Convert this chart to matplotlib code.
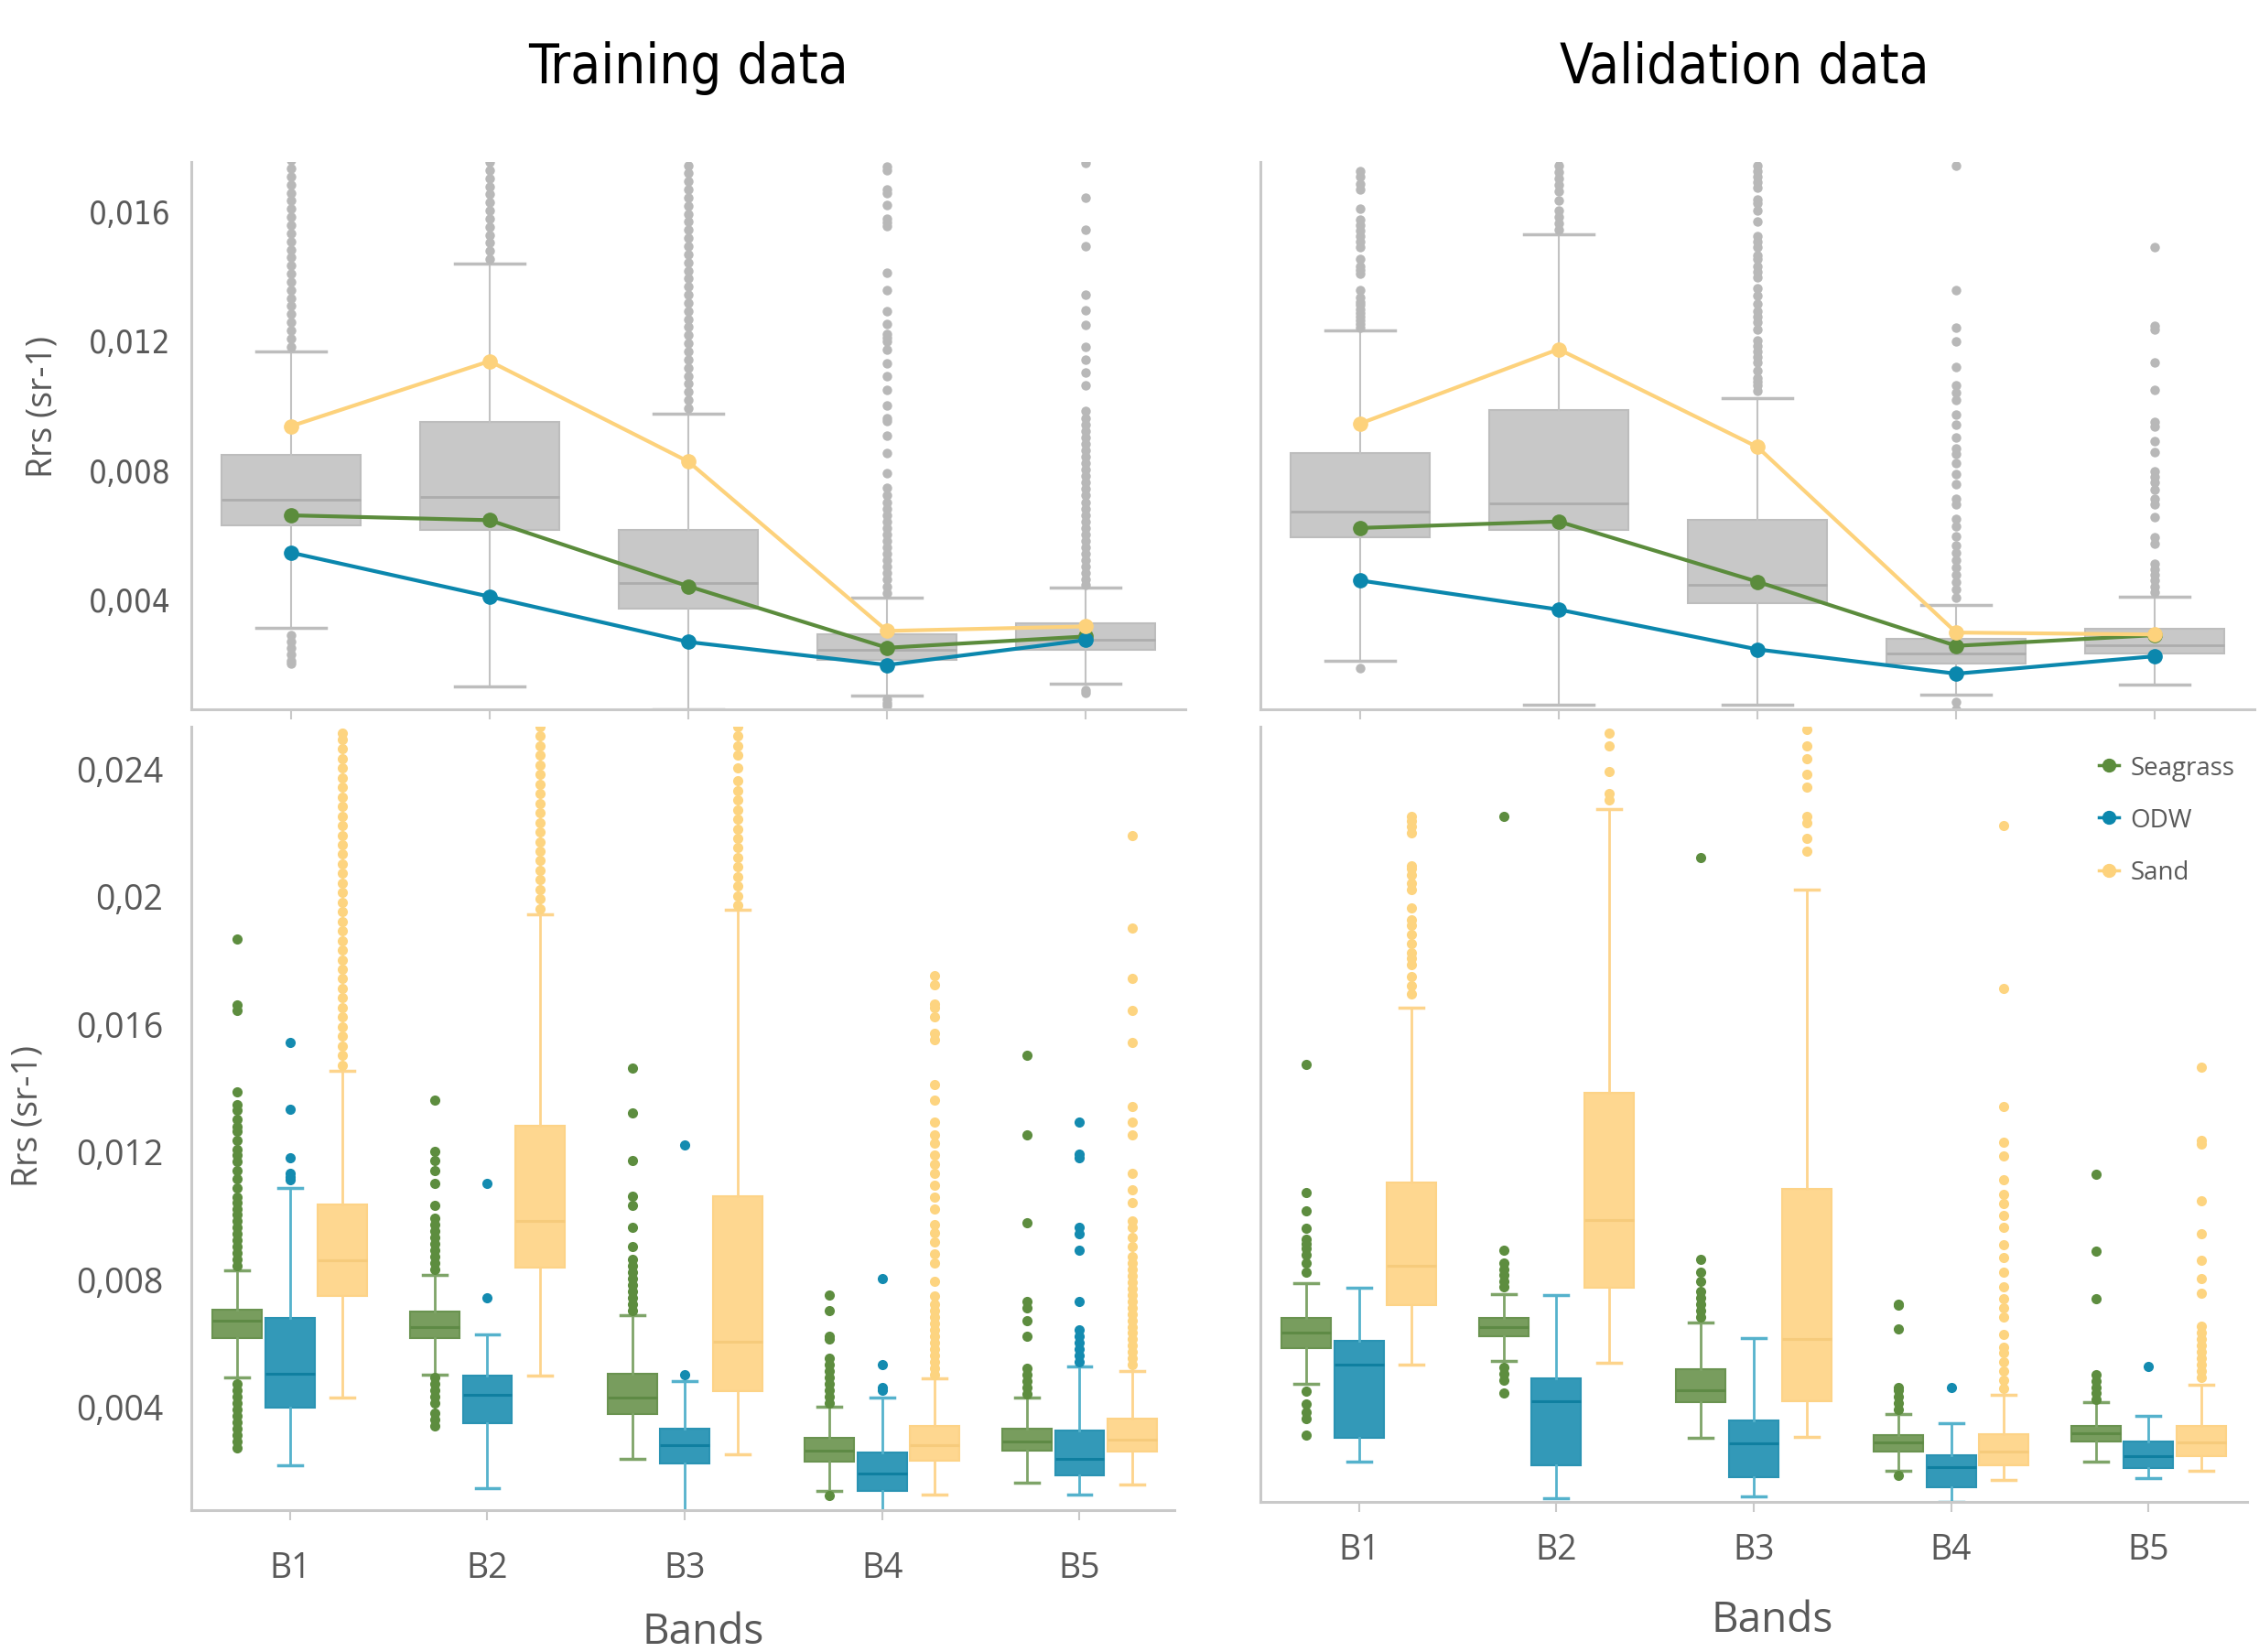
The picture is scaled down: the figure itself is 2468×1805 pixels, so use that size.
import matplotlib
matplotlib.use('Agg')
import matplotlib.pyplot as plt
from matplotlib.ticker import FuncFormatter, FixedLocator
from matplotlib.lines import Line2D
from matplotlib import font_manager as fm

# ---------------- DATA ----------------
bands = ['B1', 'B2', 'B3', 'B4', 'B5']
classes = ['Seagrass', 'ODW', 'Sand']

# Top row: pooled boxes (gray) + class mean lines
train_all_q1 = [0.00629, 0.00615, 0.00371, 0.00213, 0.00245]
train_all_med = [0.00707, 0.00716, 0.00450, 0.00243, 0.00274]
train_all_q3 = [0.00847, 0.00946, 0.00615, 0.00293, 0.00325]
train_all_wlo = [0.00311, 0.00130, 0.00061, 0.00103, 0.00138]
train_all_whi = [0.01166, 0.01437, 0.00973, 0.00404, 0.00435]
train_all_fliers = [
    [0.01180, 0.01205, 0.01230, 0.01255, 0.01280, 0.01305, 0.01330, 0.01355, 0.01380, 0.01405, 0.01430,
     0.01455, 0.01480, 0.01505, 0.01530, 0.01555, 0.01580, 0.01605, 0.01630, 0.01655, 0.01680, 0.01705,
     0.01730, 0.01755, 0.01780, 0.00290, 0.00270, 0.00250, 0.00230, 0.00210, 0.00200],
    [0.01450, 0.01475, 0.01500, 0.01525, 0.01550, 0.01575, 0.01600, 0.01625, 0.01650, 0.01675, 0.01700,
     0.01725, 0.01750, 0.01775],
    [0.00990, 0.01015, 0.01040, 0.01065, 0.01090, 0.01115, 0.01140, 0.01165, 0.01190, 0.01215, 0.01240,
     0.01265, 0.01290, 0.01315, 0.01340, 0.01365, 0.01390, 0.01415, 0.01440, 0.01465, 0.01490, 0.01515,
     0.01540, 0.01565, 0.01590, 0.01615, 0.01640, 0.01665, 0.01690, 0.01715, 0.01740, 0.01765],
    [0.01735, 0.01725, 0.01665, 0.01655, 0.01617, 0.01574, 0.01563, 0.01552, 0.01407, 0.01353, 0.01288,
     0.01251, 0.01218, 0.01208, 0.01197, 0.01170, 0.01127, 0.01089, 0.01046, 0.00998, 0.00960, 0.00949,
     0.00906, 0.00852, 0.00788, 0.00744, 0.00720, 0.00700, 0.00680, 0.00660, 0.00640, 0.00620, 0.00600,
     0.00580, 0.00560, 0.00540, 0.00520, 0.00500, 0.00480, 0.00460, 0.00440, 0.00420,
     0.00090, 0.00080, 0.00070],
    [0.01746, 0.01641, 0.01540, 0.01491, 0.01340, 0.01291, 0.01248, 0.01178, 0.01140, 0.01100, 0.01060,
     0.00980, 0.00960, 0.00940, 0.00920, 0.00900, 0.00880, 0.00860, 0.00840, 0.00820, 0.00800, 0.00780,
     0.00760, 0.00740, 0.00720, 0.00700, 0.00680, 0.00660, 0.00640, 0.00620, 0.00600, 0.00580, 0.00560,
     0.00540, 0.00520, 0.00500, 0.00480, 0.00460, 0.00445, 0.00120, 0.00110],
]
train_mean_seagrass = [0.00659, 0.00644, 0.00440, 0.00250, 0.00285]
train_mean_odw = [0.00544, 0.00408, 0.00268, 0.00197, 0.00274]
train_mean_sand = [0.00934, 0.01135, 0.00825, 0.00302, 0.00316]

val_all_q1 = [0.00590, 0.00615, 0.00387, 0.00201, 0.00231]
val_all_med = [0.00670, 0.00696, 0.00443, 0.00231, 0.00259]
val_all_q3 = [0.00852, 0.00985, 0.00644, 0.00277, 0.00308]
val_all_wlo = [0.00211, 0.00073, 0.00075, 0.00105, 0.00136]
val_all_whi = [0.01229, 0.01528, 0.01020, 0.00383, 0.00408]
val_all_fliers = [
    [0.01721, 0.01704, 0.01681, 0.01664, 0.01606, 0.01572, 0.01555, 0.01537, 0.01520, 0.01503, 0.01486,
     0.01451, 0.01428, 0.01417, 0.01405, 0.01354, 0.01331, 0.01319, 0.01308, 0.01296, 0.01285, 0.01273,
     0.01262, 0.01250, 0.01239, 0.00188],
    [0.01540, 0.01560, 0.01580, 0.01600, 0.01630, 0.01660, 0.01680, 0.01700, 0.01720, 0.01740, 0.01760,
     0.01780],
    [0.01740, 0.01721, 0.01704, 0.01687, 0.01670, 0.01635, 0.01623, 0.01601, 0.01566, 0.01520, 0.01503,
     0.01486, 0.01463, 0.01451, 0.01428, 0.01411, 0.01394, 0.01360, 0.01336, 0.01313, 0.01290, 0.01273,
     0.01256, 0.01233, 0.01198, 0.01181, 0.01164, 0.01147, 0.01130, 0.01107, 0.01084, 0.01072, 0.01061,
     0.01043],
    [0.01740, 0.01353, 0.01239, 0.01196, 0.01116, 0.01061, 0.01038, 0.01015, 0.00969, 0.00940, 0.00900,
     0.00866, 0.00848, 0.00819, 0.00785, 0.00756, 0.00710, 0.00693, 0.00647, 0.00624, 0.00595, 0.00567,
     0.00544, 0.00521, 0.00498, 0.00475, 0.00452, 0.00429, 0.00406, 0.00084, 0.00061],
    [0.01486, 0.01244, 0.01233, 0.01132, 0.01047, 0.00946, 0.00934, 0.00888, 0.00854, 0.00796, 0.00779,
     0.00762, 0.00739, 0.00710, 0.00693, 0.00653, 0.00590, 0.00572, 0.00509, 0.00492, 0.00475, 0.00458,
     0.00440, 0.00423],
]
val_mean_seagrass = [0.00620, 0.00640, 0.00454, 0.00256, 0.00289]
val_mean_odw = [0.00458, 0.00368, 0.00245, 0.00170, 0.00224]
val_mean_sand = [0.00942, 0.01172, 0.00870, 0.00297, 0.00291]

# Bottom row: per-class boxes, training
tr_sg_q1 = [0.00614, 0.00614, 0.00376, 0.00228, 0.00260]
tr_sg_med = [0.00668, 0.00649, 0.00428, 0.00261, 0.00291]
tr_sg_q3 = [0.00704, 0.00698, 0.00503, 0.00301, 0.00331]
tr_sg_wlo = [0.00490, 0.00500, 0.00235, 0.00134, 0.00160]
tr_sg_whi = [0.00827, 0.00812, 0.00685, 0.00400, 0.00428]
tr_sg_fliers = [
    [0.0084, 0.0086, 0.0088, 0.0090, 0.0092, 0.0094, 0.0096, 0.0098, 0.0100, 0.0102, 0.0104, 0.01056,
     0.01084, 0.01112, 0.0114, 0.01168, 0.01187, 0.01206, 0.01234, 0.01262, 0.01277, 0.0130, 0.01328,
     0.01346, 0.01387, 0.0164, 0.01659, 0.01865,
     0.0047, 0.0045, 0.0043, 0.0041, 0.0039, 0.0037, 0.0035, 0.0033, 0.0031, 0.0029, 0.0027],
    [0.0083, 0.0085, 0.0087, 0.0089, 0.0091, 0.0093, 0.0095, 0.0097, 0.0099, 0.0103, 0.0110, 0.0114,
     0.0117, 0.0120, 0.0136, 0.0049, 0.0047, 0.0045, 0.0043, 0.0041, 0.0038, 0.0036, 0.0034],
    [0.0070, 0.0072, 0.0074, 0.0076, 0.0078, 0.0080, 0.0082, 0.0084, 0.0086, 0.0090, 0.0096, 0.0103,
     0.0106, 0.0117, 0.0132, 0.0146],
    [0.0041, 0.0043, 0.0045, 0.0047, 0.0049, 0.0051, 0.0053, 0.0055, 0.0061, 0.0062, 0.0070, 0.0075,
     0.0012],
    [0.0044, 0.0046, 0.0048, 0.0050, 0.0052, 0.0062, 0.0067, 0.0071, 0.0073, 0.00975, 0.0125, 0.0150],
]
tr_odw_q1 = [0.00396, 0.00348, 0.00222, 0.00134, 0.00183]
tr_odw_med = [0.00503, 0.00437, 0.00278, 0.00190, 0.00237]
tr_odw_q3 = [0.00677, 0.00496, 0.00330, 0.00256, 0.00325]
tr_odw_wlo = [0.00216, 0.00143, 0.00072, 0.00072, 0.00123]
tr_odw_whi = [0.01084, 0.00625, 0.00479, 0.00428, 0.00526]
tr_odw_fliers = [
    [0.0111, 0.0112, 0.0113, 0.0118, 0.0133, 0.0154],
    [0.0074, 0.0110],
    [0.0050, 0.0122],
    [0.0045, 0.0046, 0.0053, 0.0080],
    [0.0054, 0.0056, 0.0058, 0.0060, 0.0062, 0.0064, 0.0073, 0.0089, 0.0094, 0.0096, 0.0118, 0.0119,
     0.0129],
]
tr_sand_q1 = [0.00747, 0.00835, 0.00447, 0.00231, 0.00258]
tr_sand_med = [0.00859, 0.00981, 0.00602, 0.00278, 0.00295]
tr_sand_q3 = [0.01033, 0.01280, 0.01060, 0.00338, 0.00363]
tr_sand_wlo = [0.00428, 0.00496, 0.00250, 0.00123, 0.00156]
tr_sand_whi = [0.01453, 0.01942, 0.01955, 0.00488, 0.00512]
tr_sand_fliers = [
    [0.0147, 0.0150, 0.0153, 0.0156, 0.0159, 0.0162, 0.0165, 0.0168, 0.0171, 0.0174, 0.0177, 0.0180,
     0.0183, 0.0186, 0.0189, 0.0192, 0.0195, 0.0198, 0.0201, 0.0204, 0.0207, 0.0210, 0.0213, 0.0216,
     0.0219, 0.0222, 0.0225, 0.0228, 0.0231, 0.0234, 0.0237, 0.0240, 0.0243, 0.0246, 0.0249, 0.0251],
    [0.0196, 0.0199, 0.0202, 0.0205, 0.0208, 0.0211, 0.0214, 0.0217, 0.0220, 0.0223, 0.0226, 0.0229,
     0.0232, 0.0235, 0.0238, 0.0241, 0.0244, 0.0247, 0.0250, 0.0253, 0.0256],
    [0.0197, 0.0200, 0.0203, 0.0206, 0.0209, 0.0212, 0.0215, 0.0218, 0.0221, 0.0224, 0.0227, 0.0230,
     0.0233, 0.0236, 0.0240, 0.0244, 0.0247, 0.0250, 0.0253],
    [0.0050, 0.0052, 0.0054, 0.0056, 0.0058, 0.0060, 0.0062, 0.0064, 0.0066, 0.0068, 0.0070, 0.0072,
     0.00747, 0.00793, 0.0085, 0.00878, 0.00915, 0.00943, 0.00971, 0.01018, 0.01056, 0.01093, 0.01131,
     0.01159, 0.01187, 0.01224, 0.01252, 0.0129, 0.0136, 0.0141, 0.0155, 0.0157, 0.0162, 0.0165, 0.0166,
     0.0172, 0.0175],
    [0.0053, 0.0055, 0.0057, 0.0059, 0.0061, 0.0063, 0.0065, 0.0067, 0.0069, 0.0071, 0.0073, 0.0075,
     0.0077, 0.0079, 0.0081, 0.0083, 0.0085, 0.0087, 0.0090, 0.0093, 0.0096, 0.0098, 0.0104, 0.0108,
     0.0113, 0.0125, 0.0129, 0.0134, 0.0154, 0.0164, 0.0174, 0.0190, 0.0219],
]

# Bottom row: per-class boxes, validation
va_sg_q1 = [0.00552, 0.00590, 0.00384, 0.00228, 0.00260]
va_sg_med = [0.00601, 0.00618, 0.00420, 0.00256, 0.00284]
va_sg_q3 = [0.00646, 0.00646, 0.00485, 0.00279, 0.00309]
va_sg_wlo = [0.00440, 0.00513, 0.00270, 0.00167, 0.00196]
va_sg_whi = [0.00757, 0.00721, 0.00631, 0.00346, 0.00382]
va_sg_fliers = [
    [0.0079, 0.00818, 0.00846, 0.00865, 0.00878, 0.00893, 0.00927, 0.00983, 0.0104, 0.01442,
     0.00416, 0.00378, 0.0035, 0.00331, 0.00279],
    [0.00743, 0.00762, 0.00781, 0.00799, 0.00818, 0.00859, 0.02219, 0.00491, 0.00472, 0.00453, 0.0041],
    [0.0065, 0.0067, 0.0069, 0.0071, 0.0073, 0.0076, 0.0079, 0.0083, 0.0209],
    [0.0036, 0.0038, 0.0040, 0.0042, 0.0043, 0.00612, 0.00687, 0.0069, 0.00153],
    [0.0039, 0.0041, 0.0043, 0.0045, 0.0047, 0.00706, 0.00856, 0.01096],
]
va_odw_q1 = [0.00270, 0.00185, 0.00148, 0.00116, 0.00176]
va_odw_med = [0.00500, 0.00387, 0.00253, 0.00178, 0.00213]
va_odw_q3 = [0.00575, 0.00457, 0.00326, 0.00215, 0.00260]
va_odw_wlo = [0.00195, 0.00082, 0.00088, 0.00070, 0.00144]
va_odw_whi = [0.00740, 0.00719, 0.00584, 0.00316, 0.00341]
va_odw_fliers = [[], [], [], [0.00429], [0.00494]]
va_sand_q1 = [0.00687, 0.00740, 0.00387, 0.00185, 0.00213]
va_sand_med = [0.00810, 0.00953, 0.00580, 0.00228, 0.00256]
va_sand_q3 = [0.01070, 0.01352, 0.01051, 0.00281, 0.00307]
va_sand_wlo = [0.00500, 0.00506, 0.00275, 0.00138, 0.00168]
va_sand_whi = [0.01620, 0.02242, 0.01990, 0.00406, 0.00438]
va_sand_fliers = [
    [0.01661, 0.01689, 0.01717, 0.01755, 0.01774, 0.01792, 0.0182, 0.01849, 0.01877, 0.01895, 0.01933,
     0.01989, 0.02008, 0.02036, 0.02055, 0.02064, 0.02167, 0.02186, 0.02204, 0.02219],
    [0.0227, 0.0229, 0.0236, 0.0244, 0.0248],
    [0.0211, 0.0215, 0.0220, 0.0222, 0.0231, 0.0235, 0.0240, 0.0244, 0.0249],
    [0.00425, 0.00453, 0.00481, 0.00509, 0.00537, 0.00556, 0.00594, 0.0065, 0.00678, 0.00706, 0.00743,
     0.0079, 0.00837, 0.00875, 0.00931, 0.00968, 0.01006, 0.01034, 0.0108, 0.01155, 0.01197, 0.01309,
     0.0168, 0.02191],
    [0.0046, 0.0048, 0.0050, 0.0052, 0.0054, 0.0056, 0.0058, 0.0060, 0.0062, 0.00725, 0.00771, 0.00828,
     0.00912, 0.01015, 0.01193, 0.01202, 0.01433],
]

top_yticks = [0.004, 0.008, 0.012, 0.016]
bottom_yticks = [0.004, 0.008, 0.012, 0.016, 0.020, 0.024]

# ---------------- STYLE ----------------
W, H = 2468, 1806
DPI = 100

def has_font(name):
    try:
        fm.findfont(fm.FontProperties(family=name), fallback_to_default=False)
        return True
    except Exception:
        return False

SANS = 'Open Sans' if has_font('Open Sans') else 'DejaVu Sans'

# Look for any installed condensed / narrow face for the titles
def find_condensed():
    best = None
    for f in fm.fontManager.ttflist:
        nm = f.name.lower()
        fname = f.fname.lower()
        st = str(f.stretch).lower()
        is_cond = ('condensed' in st or 'narrow' in nm or 'condensed' in nm
                   or 'condensed' in fname or 'narrow' in fname)
        if not is_cond:
            continue
        if str(f.style) != 'normal':
            continue
        w = f.weight if isinstance(f.weight, int) else 400
        if w > 500:
            continue
        score = 0
        if 'sans' in nm:
            score += 1
        if best is None or score > best[0]:
            best = (score, f.fname)
    return best[1] if best else None

_cond_path = find_condensed()
if _cond_path:
    COND_FP = fm.FontProperties(fname=_cond_path)
else:
    COND_FP = fm.FontProperties(family='DejaVu Sans')

col_line = {'Seagrass': '#5b8c3c', 'ODW': '#0b87ad', 'Sand': '#fdd27c'}
col_fill = {'Seagrass': '#789d5e', 'ODW': '#3399b8', 'Sand': '#fed790'}
col_edge = {'Seagrass': '#6a9350', 'ODW': '#2a93b3', 'Sand': '#fdd387'}
col_med = {'Seagrass': '#5e8a45', 'ODW': '#0f7fa0', 'Sand': '#f6cb7c'}
col_whisk = {'Seagrass': '#7ea468', 'ODW': '#55b2cc', 'Sand': '#fdd48c'}
col_pts = {'Seagrass': '#5d8d3f', 'ODW': '#148bb0', 'Sand': '#fdd480'}
GRAY_TXT = '#595959'
SPINE = '#c9c9c9'

fig = plt.figure(figsize=(W / DPI, H / DPI), dpi=DPI)

def box_axes(l, r, t, b):
    return fig.add_axes([l / W, 1 - b / H, (r - l) / W, (b - t) / H])

fmt = FuncFormatter(lambda v, p: ('%g' % v).replace('.', ','))

def make_stats(q1, med, q3, wlo, whi, fl):
    return [dict(q1=q1[i], med=med[i], q3=q3[i], whislo=wlo[i], whishi=whi[i], fliers=fl[i])
            for i in range(len(q1))]

def style_axes(ax):
    for s in ['top', 'right']:
        ax.spines[s].set_visible(False)
    for s in ['left', 'bottom']:
        ax.spines[s].set_color(SPINE)
        ax.spines[s].set_linewidth(2.2)
    ax.tick_params(axis='y', length=0)
    ax.tick_params(axis='x', length=8, width=1.5, color=SPINE)
    ax.set_facecolor('white')

def top_panel(ax, q1, med, q3, wlo, whi, fl, means, show_y):
    style_axes(ax)
    stats = make_stats(q1, med, q3, wlo, whi, fl)
    ax.bxp(stats, positions=range(len(bands)), widths=0.7, capwidths=0.35, patch_artist=True,
           boxprops=dict(facecolor='#c8c8c8', edgecolor='#bdbdbd', linewidth=1.5),
           medianprops=dict(color='#adadad', linewidth=2),
           whiskerprops=dict(color='#c2c2c2', linewidth=1.5),
           capprops=dict(color='#bdbdbd', linewidth=2.5),
           flierprops=dict(marker='o', markerfacecolor='#b8b8b8', markeredgecolor='none', markersize=7.5))
    for cname, m in zip(classes, means):
        ax.plot(range(len(bands)), m, color=col_line[cname], lw=3, marker='o', ms=11, zorder=5)
    ax.set_xlim(-0.5, 4.5)
    ax.set_ylim(0.0006, 0.0175)
    ax.xaxis.set_major_locator(FixedLocator(range(len(bands))))
    ax.set_xticklabels([])
    ax.yaxis.set_major_locator(FixedLocator(top_yticks))
    ax.yaxis.set_major_formatter(fmt)
    if show_y:
        ax.tick_params(axis='y', labelsize=24, labelcolor=GRAY_TXT, pad=16)
        for t in ax.get_yticklabels():
            t.set_fontproperties(COND_FP)
            t.set_fontsize(25)
    else:
        ax.set_yticklabels([])

def bottom_panel(ax, groups, ylim, xlim, show_y, xpad):
    style_axes(ax)
    offsets = [-0.267, 0.0, 0.267]
    for (cname, q1, med, q3, wlo, whi, fl), off in zip(groups, offsets):
        stats = make_stats(q1, med, q3, wlo, whi, fl)
        ax.bxp(stats, positions=[i + off for i in range(len(bands))], widths=0.25, capwidths=0.12,
               patch_artist=True,
               boxprops=dict(facecolor=col_fill[cname], edgecolor=col_edge[cname], linewidth=1.5),
               medianprops=dict(color=col_med[cname], linewidth=2.2),
               whiskerprops=dict(color=col_whisk[cname], linewidth=2),
               capprops=dict(color=col_whisk[cname], linewidth=2.5),
               flierprops=dict(marker='o', markerfacecolor=col_pts[cname], markeredgecolor='none',
                               markersize=8))
    ax.set_xlim(*xlim)
    ax.set_ylim(*ylim)
    ax.xaxis.set_major_locator(FixedLocator(range(len(bands))))
    ax.set_xticklabels(bands, fontfamily=SANS)
    ax.tick_params(axis='x', labelsize=27, labelcolor=GRAY_TXT, pad=xpad)
    ax.yaxis.set_major_locator(FixedLocator(bottom_yticks))
    ax.yaxis.set_major_formatter(fmt)
    if show_y:
        ax.tick_params(axis='y', labelsize=27, labelcolor=GRAY_TXT, pad=22)
        for t in ax.get_yticklabels():
            t.set_fontfamily(SANS)
    else:
        ax.set_yticklabels([])

ax_tl = box_axes(209, 1295, 178, 776)
ax_tr = box_axes(1377, 2463, 178, 776)
ax_bl = box_axes(209, 1283, 795, 1651)
ax_br = box_axes(1377, 2455, 795, 1642)

top_panel(ax_tl, train_all_q1, train_all_med, train_all_q3, train_all_wlo, train_all_whi,
          train_all_fliers, [train_mean_seagrass, train_mean_odw, train_mean_sand], True)
top_panel(ax_tr, val_all_q1, val_all_med, val_all_q3, val_all_wlo, val_all_whi,
          val_all_fliers, [val_mean_seagrass, val_mean_odw, val_mean_sand], False)

bottom_panel(ax_bl, [
    ('Seagrass', tr_sg_q1, tr_sg_med, tr_sg_q3, tr_sg_wlo, tr_sg_whi, tr_sg_fliers),
    ('ODW', tr_odw_q1, tr_odw_med, tr_odw_q3, tr_odw_wlo, tr_odw_whi, tr_odw_fliers),
    ('Sand', tr_sand_q1, tr_sand_med, tr_sand_q3, tr_sand_wlo, tr_sand_whi, tr_sand_fliers),
], (0.00075, 0.0253), (-0.5, 4.48), True, 24)
bottom_panel(ax_br, [
    ('Seagrass', va_sg_q1, va_sg_med, va_sg_q3, va_sg_wlo, va_sg_whi, va_sg_fliers),
    ('ODW', va_odw_q1, va_odw_med, va_odw_q3, va_odw_wlo, va_odw_whi, va_odw_fliers),
    ('Sand', va_sand_q1, va_sand_med, va_sand_q3, va_sand_wlo, va_sand_whi, va_sand_fliers),
], (0.0007, 0.0250), (-0.5, 4.5), False, 16)

# Titles and axis labels
title_size = 43 if _cond_path else 40
for x, s in [(752, 'Training data'), (1906, 'Validation data')]:
    t = fig.text(x / W, 1 - 74 / H, s, ha='center', va='center', color='black')
    t.set_fontproperties(COND_FP)
    t.set_fontsize(title_size)

fig.text(47 / W, 1 - 445 / H, 'Rrs (sr-1)', rotation=90, ha='center', va='center', fontsize=27,
         fontfamily=SANS, color=GRAY_TXT)
fig.text(31 / W, 1 - 1220 / H, 'Rrs (sr-1)', rotation=90, ha='center', va='center', fontsize=27,
         fontfamily=SANS, color=GRAY_TXT)
fig.text(768 / W, 1 - 1784 / H, 'Bands', ha='center', va='center', fontsize=33,
         fontfamily=SANS, color=GRAY_TXT)
fig.text(1936 / W, 1 - 1771 / H, 'Bands', ha='center', va='center', fontsize=33,
         fontfamily=SANS, color=GRAY_TXT)

handles = [Line2D([0], [0], color=col_line[c], marker='o', ms=10, lw=2.5) for c in classes]
leg = ax_br.legend(handles, classes, loc='upper left', bbox_to_anchor=(2293 / W, 1 - 826 / H),
                   bbox_transform=fig.transFigure, frameon=False, fontsize=20, handlelength=0.8,
                   handletextpad=0.45, labelspacing=1.05, borderpad=0, borderaxespad=0)
for t in leg.get_texts():
    t.set_color(GRAY_TXT)
    t.set_fontfamily(SANS)

fig.savefig('out.png', dpi=DPI, facecolor='white')
